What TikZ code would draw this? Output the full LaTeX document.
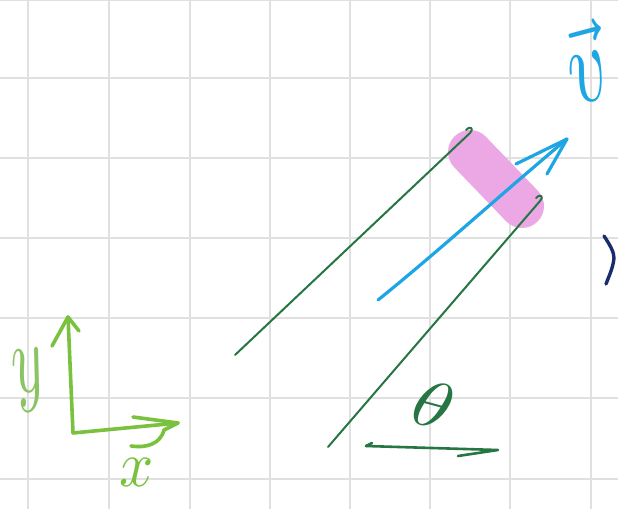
\documentclass[tikz,border=0pt]{standalone}
\usetikzlibrary{calc}
\definecolor{dgreen}{RGB}{38,118,68}
\definecolor{vblue}{RGB}{30,165,228}
\definecolor{limeg}{RGB}{122,194,62}
\definecolor{limel}{RGB}{140,196,100}
\definecolor{pinkhl}{RGB}{236,168,228}
\definecolor{navy}{RGB}{25,45,110}
\begin{document}
\begin{tikzpicture}[x=1pt,y=-1pt,
  gridline/.style={draw=black!12,line width=1.2pt},
  stroke/.style={line width=2.4pt,line cap=round,line join=round},
  darkg/.style={stroke,draw=dgreen,line width=2pt},
  blu/.style={stroke,draw=vblue,line width=3.2pt},
  lime/.style={stroke,draw=limeg,line width=3.6pt},
  handtext/.style={inner sep=0pt}]
\useasboundingbox (0,0) rectangle (618,509);
\fill[white] (0,0) rectangle (618,509);
% grid
\foreach \gx in {28,109,190,270,350,430,510,591}
  \draw[gridline] (\gx,0) -- (\gx,509);
\foreach \gy in {0,78,158,238,318,398,479}
  \draw[gridline] (0,\gy) -- (618,\gy);
% pink highlight
\coordinate (pa) at (470,152);
\coordinate (pb) at (522,206);
\draw[line width=44pt,line cap=round,draw=pinkhl] (pa) -- (pb);
% dark green lines
\coordinate (g1a) at (235,355);
\coordinate (g1b) at (470,133);
\coordinate (g2a) at (328,447);
\coordinate (g2b) at (540,201);
\draw[darkg] (g1a) -- (g1b) .. controls (474,129) and (471,125) .. (466,130);
\draw[darkg] (g2a) -- (g2b) .. controls (544,197) and (541,193) .. (536,198);
% blue vector
\coordinate (ba) at (378,300);
\coordinate (bt) at (567,139);
\coordinate (bl) at (516,164);
\coordinate (br) at (547,174);
\draw[blu] (ba) .. controls (440,250) and (500,195) .. (bt);
\draw[blu] (bl) -- (bt) -- (br);
% v label
\node[handtext,text=vblue,rotate=15] (vlab) at (585,62) {\scalebox{7.5}[11]{$\vec{v}$}};
% navy partial mark at right edge
\coordinate (n1) at (604,236);
\coordinate (n2) at (614,258);
\coordinate (n3) at (606,284);
\draw[stroke,draw=navy,line width=3.4pt] (n1) .. controls (610,245) and (614,252) .. (n2) .. controls (613,268) and (609,276) .. (n3);
% axes
\coordinate (o) at (73,433);
\coordinate (yt) at (68,317);
\coordinate (xt) at (178,423);
\draw[lime] (yt) -- (o) -- (xt);
\draw[lime] (52,346) -- (yt) -- (79,331);
\draw[lime] (133,417) -- (xt) -- (164,430) .. controls (160,445) and (145,448) .. (131,446);
\node[handtext,text=limel,rotate=10] (ylab) at (30,380) {\scalebox{6}[10]{$y$}};
\node[handtext,text=limeg] (xlab) at (137,472) {\scalebox{6}[6.5]{$x$}};
% theta
\node[handtext,text=dgreen,rotate=-15] (th) at (434,405) {\scalebox{8}[6.5]{$\theta$}};
\coordinate (u1) at (366,446);
\coordinate (u2) at (498,450);
\draw[darkg,line width=2.6pt] (u1) -- (u2) -- (458,456);
\draw[darkg,line width=2.6pt] (u1) -- (372,443);
\end{tikzpicture}
\end{document}
